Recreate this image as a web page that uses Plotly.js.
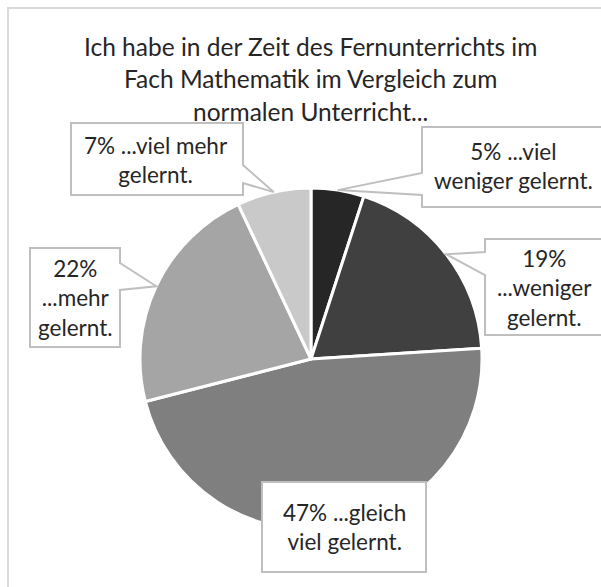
<!DOCTYPE html>
<html>
<head>
<meta charset="utf-8">
<script src="https://cdn.plot.ly/plotly-3.0.1.min.js"></script>
<style>
  html, body { margin: 0; padding: 0; background: #ffffff; }
  #chart { width: 601px; height: 587px; }
</style>
</head>
<body>
<div id="chart"></div>
<script>
// ---- data ----
const categories = ['...viel weniger gelernt.', '...weniger gelernt.', '...gleich viel gelernt.', '...mehr gelernt.', '...viel mehr gelernt.'];
const values = [5, 19, 47, 22, 7];
const labelFirstLine = [' ...viel', '', ' ...gleich', '', ' ...viel mehr'];
const labelRestLines = [['weniger gelernt.'], ['...weniger', 'gelernt.'], ['viel gelernt.'], ['...mehr', 'gelernt.'], ['gelernt.']];
const titleLines = ['Ich habe in der Zeit des Fernunterrichts im', 'Fach Mathematik im Vergleich zum', 'normalen Unterricht...'];

// ---- styling ----
const W = 601, H = 587;
const sliceColors = ['#262626', '#404040', '#7f7f7f', '#a5a5a5', '#c9c9c9'];
const FONT = 'Lato, "DejaVu Sans", sans-serif';
const TXT = '#262626';
const BOXLINE = '#bfbfbf';
// pie placement in pixels
const CX = 311, CY = 359, R = 171;
// callout boxes (pixels): left, right, top, bottom, tail side, tail base y1,y2, text center
const boxes = [
  {l: 422, r: 604, t: 127, b: 207, side: 'left',  y1: 173, y2: 195, tx: 513, ty: 166},
  {l: 485, r: 604, t: 239, b: 335, side: 'left',  y1: 252, y2: 275, tx: 544, ty: 288},
  {l: 262, r: 426, t: 482, b: 572, side: 'none',  y1: 0,   y2: 0,   tx: 344, ty: 527},
  {l: 30,  r: 120, t: 248, b: 347, side: 'right', y1: 263, y2: 290, tx: 75,  ty: 298},
  {l: 71,  r: 243, t: 123, b: 195, side: 'right', y1: 165, y2: 183, tx: 156, ty: 160}
];
const titleY = [46, 78, 111];

const px = x => x / W;
const py = y => 1 - y / H;

// anchor points: middle of each slice's arc, from the data
const total = values.reduce((a, b) => a + b, 0);
let cum = 0;
const tips = values.map(v => {
  const mid = (cum + v / 2) / total;
  cum += v;
  const th = mid * 2 * Math.PI;
  return {x: CX + R * Math.sin(th), y: CY - R * Math.cos(th)};
});

const shapes = [];
// chart frame (only left and top edges are inside the picture)
shapes.push({type: 'line', xref: 'paper', yref: 'paper', x0: px(8), x1: px(8), y0: py(7), y1: 0,
  line: {color: '#d9d9d9', width: 2}, layer: 'below'});
shapes.push({type: 'line', xref: 'paper', yref: 'paper', x0: px(7), x1: 1, y0: py(8), y1: py(8),
  line: {color: '#d9d9d9', width: 2}, layer: 'below'});

boxes.forEach((b, i) => {
  const tip = tips[i];
  const P = (x, y) => px(x).toFixed(5) + ',' + py(y).toFixed(5);
  let d;
  if (b.side === 'right') {
    d = 'M' + P(b.l, b.t) + ' L' + P(b.r, b.t) + ' L' + P(b.r, b.y1) + ' L' + P(tip.x, tip.y) +
        ' L' + P(b.r, b.y2) + ' L' + P(b.r, b.b) + ' L' + P(b.l, b.b) + ' Z';
  } else if (b.side === 'left') {
    d = 'M' + P(b.l, b.t) + ' L' + P(b.r, b.t) + ' L' + P(b.r, b.b) + ' L' + P(b.l, b.b) +
        ' L' + P(b.l, b.y2) + ' L' + P(tip.x, tip.y) + ' L' + P(b.l, b.y1) + ' Z';
  } else {
    d = 'M' + P(b.l, b.t) + ' L' + P(b.r, b.t) + ' L' + P(b.r, b.b) + ' L' + P(b.l, b.b) + ' Z';
  }
  shapes.push({type: 'path', xref: 'paper', yref: 'paper', path: d,
    fillcolor: '#ffffff', line: {color: BOXLINE, width: 2}, layer: 'above'});
});

const annotations = [];
titleLines.forEach((t, i) => {
  annotations.push({text: t, xref: 'paper', yref: 'paper', x: px(310), y: py(titleY[i]),
    xanchor: 'center', yanchor: 'middle', showarrow: false,
    font: {family: FONT, size: 24.5, color: TXT}});
});
boxes.forEach((b, i) => {
  const lines = [values[i] + '%' + labelFirstLine[i]].concat(labelRestLines[i]);
  annotations.push({text: lines.join('<br>'), xref: 'paper', yref: 'paper', x: px(b.tx), y: py(b.ty),
    xanchor: 'center', yanchor: 'middle', align: 'center', showarrow: false,
    font: {family: FONT, size: 22.5, color: TXT}});
});

const trace = {
  type: 'pie',
  labels: categories,
  values: values,
  sort: false,
  direction: 'clockwise',
  rotation: 0,
  marker: {colors: sliceColors, line: {color: '#ffffff', width: 3}},
  textinfo: 'none',
  hoverinfo: 'skip',
  domain: {x: [px(CX - R), px(CX + R)], y: [py(CY + R), py(CY - R)]}
};

const layout = {
  width: W, height: H,
  margin: {l: 0, r: 0, t: 0, b: 0, pad: 0},
  paper_bgcolor: '#ffffff',
  plot_bgcolor: '#ffffff',
  showlegend: false,
  shapes: shapes,
  annotations: annotations
};

Plotly.newPlot('chart', [trace], layout, {displayModeBar: false, staticPlot: true});
</script>
</body>
</html>
